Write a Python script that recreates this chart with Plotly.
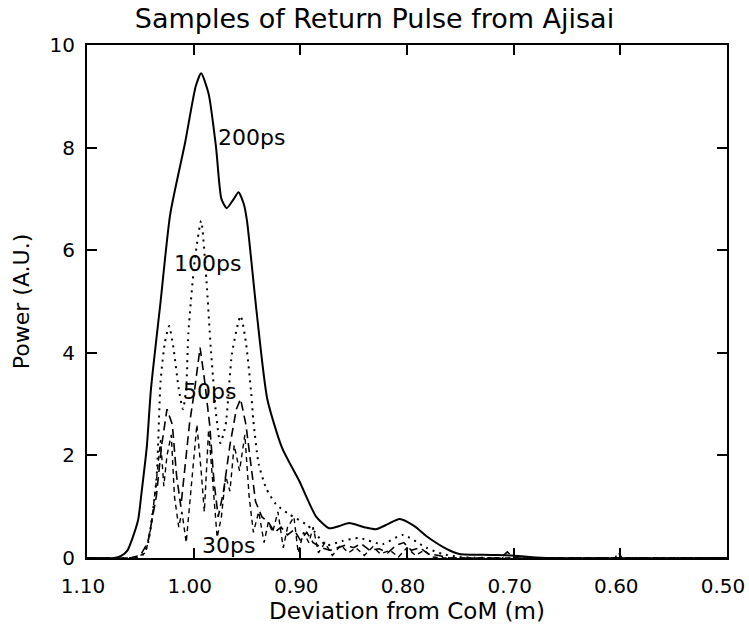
import plotly.graph_objects as go

# ---- data ----
x_200 = [1.10, 1.075, 1.068, 1.062, 1.058, 1.052, 1.049, 1.044, 1.040, 1.031, 1.022, 1.008,
         0.998, 0.993, 0.986, 0.979, 0.974, 0.969, 0.963, 0.958, 0.953, 0.950, 0.941, 0.931,
         0.917, 0.901, 0.885, 0.873, 0.864, 0.854, 0.840, 0.829, 0.818, 0.807, 0.793, 0.782,
         0.763, 0.751, 0.722, 0.703, 0.685, 0.666, 0.50]
y_200 = [0.0, 0.0, 0.04, 0.15, 0.35, 0.75, 1.25, 2.15, 3.3, 5.0, 6.7, 8.1,
         9.2, 9.45, 9.05, 8.0, 7.0, 6.82, 6.98, 7.13, 6.9, 6.57, 4.8, 3.1,
         2.14, 1.5, 0.8, 0.58, 0.62, 0.68, 0.6, 0.56, 0.66, 0.76, 0.62, 0.43,
         0.18, 0.08, 0.06, 0.05, 0.02, 0.0, 0.0]

x_100 = [1.10, 1.052, 1.047, 1.043, 1.035, 1.031, 1.027, 1.023, 1.019, 1.014, 1.010, 1.007,
         1.005, 0.999, 0.993, 0.988, 0.984, 0.981, 0.979, 0.975, 0.970, 0.964, 0.956, 0.951,
         0.946, 0.944, 0.939, 0.932, 0.923, 0.911, 0.895, 0.887, 0.876, 0.861, 0.845, 0.823,
         0.804, 0.782, 0.767, 0.751, 0.72, 0.50]
y_100 = [0.0, 0.0, 0.08, 0.27, 1.5, 3.45, 4.2, 4.52, 4.1, 3.3, 2.9, 3.3,
         4.37, 5.8, 6.57, 5.4, 4.1, 3.3, 2.8, 2.24, 2.6, 4.0, 4.72, 4.2,
         3.2, 2.67, 1.83, 1.36, 1.05, 0.86, 0.66, 0.52, 0.25, 0.33, 0.39, 0.27,
         0.45, 0.2, 0.08, 0.02, 0.0, 0.0]

x_50 = [1.10, 1.060, 1.050, 1.043, 1.035, 1.030, 1.025, 1.020, 1.016, 1.012, 1.008, 1.004,
        0.999, 0.994, 0.990, 0.985, 0.981, 0.977, 0.972, 0.966, 0.960, 0.956, 0.951, 0.946,
        0.942, 0.936, 0.930, 0.924, 0.918, 0.912, 0.906, 0.900, 0.894, 0.888, 0.880, 0.872,
        0.865, 0.858, 0.850, 0.843, 0.835, 0.826, 0.818, 0.810, 0.803, 0.796, 0.788, 0.780,
        0.770, 0.760, 0.712, 0.706, 0.700, 0.60, 0.50]
y_50 = [0.0, 0.0, 0.05, 0.3, 1.2, 2.2, 2.9, 2.6, 1.6, 1.0, 1.8, 2.6,
        3.3, 4.1, 3.5, 2.6, 1.5, 0.8, 1.3, 2.2, 2.9, 3.1, 2.6, 1.8,
        1.1, 0.8, 0.7, 0.5, 0.6, 0.45, 0.55, 0.35, 0.5, 0.3, 0.2, 0.15,
        0.2, 0.25, 0.2, 0.28, 0.15, 0.18, 0.1, 0.25, 0.3, 0.15, 0.2, 0.08,
        0.05, 0.0, 0.0, 0.12, 0.0, 0.0, 0.0]

x_30 = [1.10, 1.055, 1.045, 1.040, 1.035, 1.031, 1.028, 1.025, 1.021, 1.018, 1.014, 1.011,
        1.007, 1.003, 1.000, 0.997, 0.993, 0.990, 0.986, 0.982, 0.978, 0.974, 0.970, 0.966,
        0.962, 0.957, 0.952, 0.948, 0.944, 0.939, 0.934, 0.930, 0.926, 0.921, 0.916, 0.912,
        0.906, 0.902, 0.897, 0.892, 0.888, 0.883, 0.877, 0.870, 0.862, 0.855, 0.848, 0.840,
        0.832, 0.825, 0.816, 0.808, 0.800, 0.792, 0.784, 0.776, 0.765, 0.605, 0.602, 0.598, 0.50]
y_30 = [0.0, 0.0, 0.1, 0.6, 1.5, 2.3, 1.4, 2.0, 2.4, 1.2, 0.6, 0.9,
        0.3, 1.2, 2.0, 2.6, 1.7, 0.9, 2.5, 1.5, 0.4, 0.8, 1.6, 1.3,
        2.2, 1.7, 2.4, 1.2, 0.5, 0.9, 0.3, 0.7, 0.5, 0.9, 0.2, 0.6,
        0.8, 0.1, 0.5, 0.3, 0.6, 0.1, 0.3, 0.05, 0.25, 0.1, 0.2, 0.05,
        0.22, 0.08, 0.15, 0.02, 0.2, 0.05, 0.15, 0.02, 0.0, 0.0, 0.1, 0.0, 0.0]

labels = ["200ps", "100ps", "50ps", "30ps"]
label_x = [0.979, 1.020, 1.012, 0.994]
label_y = [8.2, 5.75, 3.25, 0.25]

x_ticks = [1.10, 1.00, 0.90, 0.80, 0.70, 0.60, 0.50]
y_ticks = [0, 2, 4, 6, 8, 10]

FONT = "DejaVu Sans"

fig = go.Figure()
fig.add_trace(go.Scatter(x=x_200, y=y_200, mode="lines", name="200ps",
                         line=dict(color="black", width=2, dash="solid", shape="spline", smoothing=0.6)))
fig.add_trace(go.Scatter(x=x_100, y=y_100, mode="lines", name="100ps",
                         line=dict(color="black", width=2, dash="2px,5px", shape="spline", smoothing=0.6)))
fig.add_trace(go.Scatter(x=x_50, y=y_50, mode="lines", name="50ps",
                         line=dict(color="black", width=1.6, dash="9px,5px")))
fig.add_trace(go.Scatter(x=x_30, y=y_30, mode="lines", name="30ps",
                         line=dict(color="black", width=1.4, dash="5px,4px")))

for t, lx, ly in zip(labels, label_x, label_y):
    fig.add_annotation(x=lx, y=ly, text=t, showarrow=False, xanchor="left", yanchor="middle",
                       font=dict(family=FONT, size=22, color="black"))

fig.update_layout(
    width=749, height=629,
    margin=dict(l=87, r=22, t=45, b=71),
    paper_bgcolor="white", plot_bgcolor="white",
    showlegend=False,
    title=dict(text="Samples of Return Pulse from Ajisai", x=0.5, xanchor="center",
               y=0.970, yanchor="middle", font=dict(family=FONT, size=27, color="black")),
    font=dict(family=FONT, size=20, color="black"),
)
fig.update_xaxes(range=[1.10, 0.50], tickvals=x_ticks, ticktext=[f"{v:.2f}" for v in x_ticks],
                 ticks="inside", ticklen=10, tickwidth=1.5, tickcolor="black",
                 showline=True, linecolor="black", linewidth=2, mirror="ticks",
                 showgrid=False, zeroline=False, ticklabelstandoff=9, ticklabelshift=4,
                 ticklabeloverflow="allow", automargin=False,
                 tickfont=dict(family=FONT, size=20),
                 title=dict(text="Deviation from CoM (m)", font=dict(family=FONT, size=23), standoff=4))
fig.update_yaxes(range=[0, 10], tickvals=y_ticks, ticktext=[str(v) for v in y_ticks],
                 ticks="inside", ticklen=10, tickwidth=1.5, tickcolor="black",
                 showline=True, linecolor="black", linewidth=2, mirror="ticks",
                 showgrid=False, zeroline=False, ticklabelstandoff=6, automargin=False,
                 tickfont=dict(family=FONT, size=20),
                 title=dict(text="Power (A.U.)", font=dict(family=FONT, size=22), standoff=14))

fig.write_html("out.html")
